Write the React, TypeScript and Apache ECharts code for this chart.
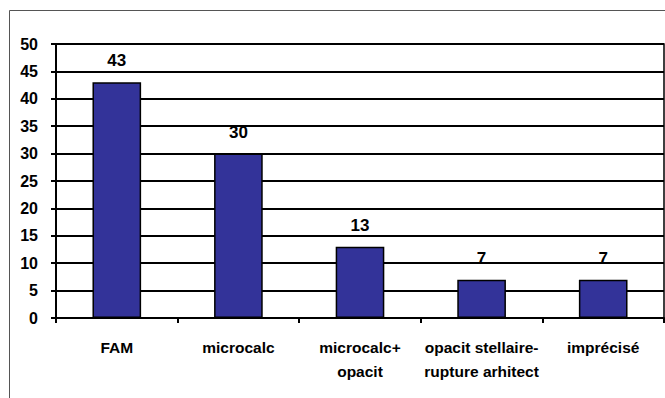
import React, { useEffect, useRef } from "react";
import * as echarts from "echarts";

const categories = ["FAM", "microcalc", "microcalc+\nopacit", "opacit stellaire-\nrupture arhitect", "imprécisé"];
const values = [43, 30, 13, 7, 7];
const yMin = 0;
const yMax = 50;
const yStep = 5;

const FONT = '"Liberation Sans", Arial, sans-serif';

export default function App() {
  const ref = useRef<HTMLDivElement>(null);
  useEffect(() => {
    document.body.style.margin = "0";
    const chart = echarts.init(ref.current!, null, { renderer: "svg" });
    chart.setOption({
      animation: false,
      backgroundColor: "#ffffff",
      graphic: [
        {
          type: "rect",
          shape: { x: 9.5, y: 10.5, width: 700, height: 420 },
          style: { fill: "none", stroke: "#555", lineWidth: 1 },
          silent: true,
          z: -1,
        },
      ],
      grid: {
        left: 56,
        right: 1,
        top: 44,
        bottom: 80,
        show: true,
        borderColor: "#000",
        borderWidth: 1.5,
        backgroundColor: "transparent",
      },
      xAxis: {
        type: "category",
        data: categories,
        axisLine: { lineStyle: { color: "#000", width: 2 } },
        axisTick: { show: true, length: 5, alignWithLabel: false, lineStyle: { color: "#000", width: 2 } },
        axisLabel: {
          color: "#000",
          fontFamily: FONT,
          fontWeight: "bold",
          fontSize: 15.5,
          lineHeight: 24,
          margin: 17,
          interval: 0,
        },
      },
      yAxis: {
        type: "value",
        min: yMin,
        max: yMax,
        interval: yStep,
        axisLine: { show: true, lineStyle: { color: "#000", width: 2 } },
        axisTick: { show: true, length: 5, lineStyle: { color: "#000", width: 2 } },
        splitLine: { show: true, lineStyle: { color: "#000", width: 2 } },
        axisLabel: {
          color: "#000",
          fontFamily: FONT,
          fontWeight: "bold",
          fontSize: 16,
          margin: 18,
        },
      },
      series: [
        {
          type: "bar",
          data: values,
          barWidth: "40%",
          itemStyle: { color: "#333399", borderColor: "#000", borderWidth: 1.5 },
          label: {
            show: true,
            position: "top",
            distance: 13,
            color: "#000",
            fontFamily: FONT,
            fontWeight: "bold",
            fontSize: 17,
          },
          z: 3,
        },
      ],
    });
    return () => chart.dispose();
  }, []);
  return <div ref={ref} style={{ position: "absolute", left: 0, top: 0, width: 665, height: 398 }} />;
}
